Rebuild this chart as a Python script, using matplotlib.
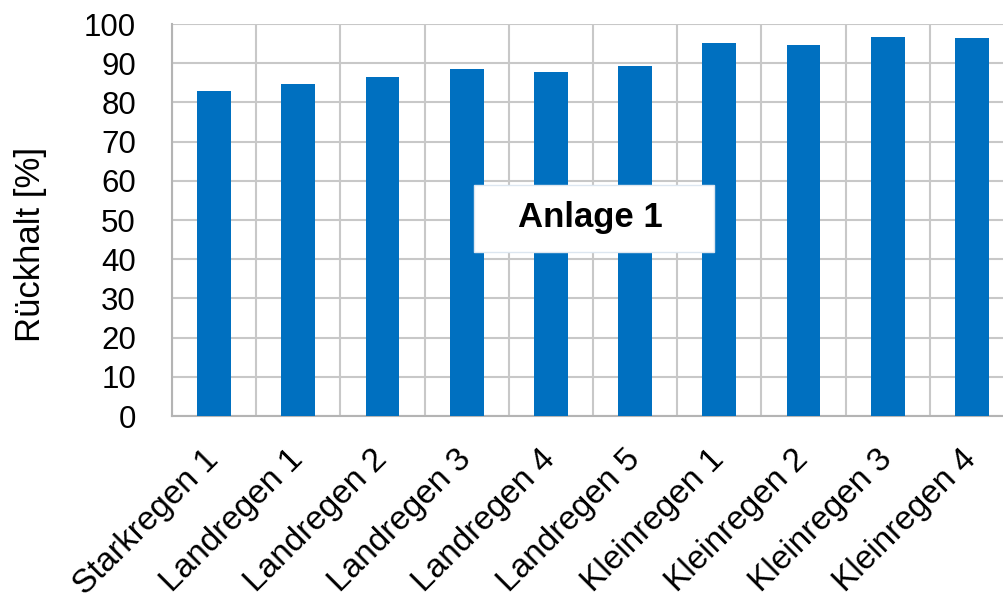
import numpy as np
import matplotlib.pyplot as plt
from matplotlib.patches import Rectangle

plt.rcParams["font.family"] = ["Liberation Sans", "DejaVu Sans"]

# Rückhalt je Regenereignis
events = ["Starkregen 1", "Landregen 1", "Landregen 2", "Landregen 3", "Landregen 4",
          "Landregen 5", "Kleinregen 1", "Kleinregen 2", "Kleinregen 3", "Kleinregen 4"]
retention = [82.9, 84.7, 86.5, 88.4, 87.8, 89.3, 95.2, 94.7, 96.8, 96.5]

fig = plt.figure(figsize=(10.04, 6.02), dpi=100)
ax = fig.add_axes([172 / 1004, 1 - 416 / 602, 842 / 1004, 392 / 602])

x = np.arange(len(events))
ax.bar(x, retention, width=0.4, color="#0070C0", zorder=3)

ax.set_xlim(-0.5, len(events) - 0.5)
ax.set_ylim(0, 100)
ax.set_yticks(np.arange(0, 101, 10))

# Gitter: horizontal bei 10er-Schritten, vertikal an den Kategoriegrenzen
ax.set_xticks(np.arange(-0.5, len(events), 1), minor=True)
ax.grid(axis="y", which="major", color="#c8c8c8", linewidth=1.5, zorder=0)
ax.grid(axis="x", which="minor", color="#c8c8c8", linewidth=1.5, zorder=0)

ax.set_xticks(x)
ax.set_xticklabels(events, rotation=45, ha="right", va="center", rotation_mode="anchor")
ax.tick_params(axis="x", which="both", length=0, pad=28, labelsize=24)
ax.tick_params(axis="y", length=0, pad=26, labelsize=22.5)

for side in ["top", "right"]:
    ax.spines[side].set_visible(False)
for side in ["left", "bottom"]:
    ax.spines[side].set_color("#b4b4b4")
    ax.spines[side].set_linewidth(1.5)

ax.set_ylabel("Rückhalt [%]", fontsize=25, va="center")
ax.yaxis.set_label_coords(-0.1675, 0.4375)

# Beschriftungsfeld
ax.add_patch(Rectangle((3.09, 41.8), 2.85, 17.2, facecolor="white", edgecolor="#dce6f0",
                       linewidth=1, zorder=5))
ax.text(4.47, 50.6, "Anlage 1", fontsize=25, fontweight="bold", ha="center", va="center",
        zorder=6)

fig.savefig("out.png", dpi=100)
